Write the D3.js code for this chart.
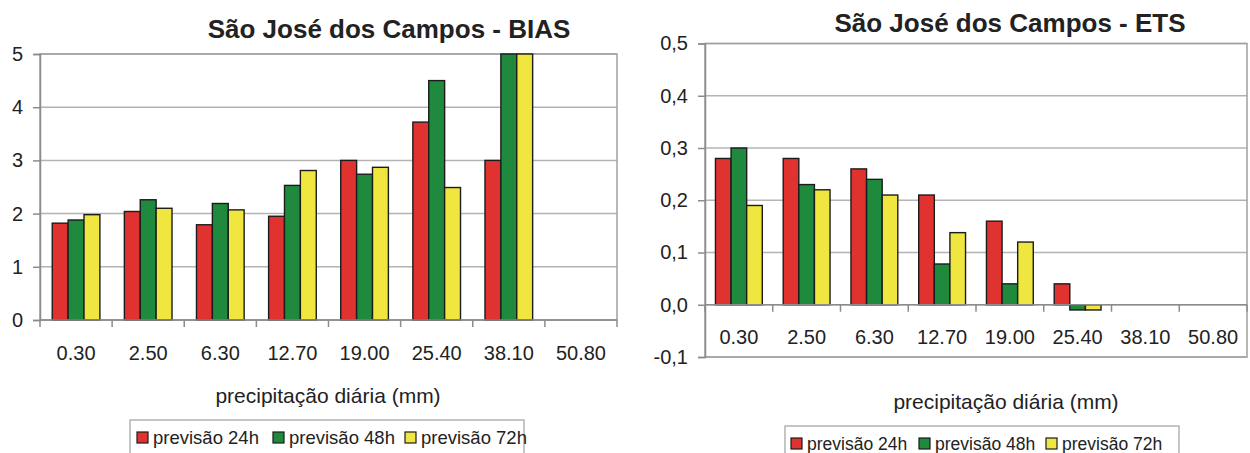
<!DOCTYPE html>
<html>
<head>
<meta charset="utf-8">
<script src="https://cdn.jsdelivr.net/npm/d3@7"></script>
<style>
  html, body { margin: 0; padding: 0; background: #fff; }
  svg { display: block; }
  text { font-family: "Liberation Sans", Arial, sans-serif; fill: #222; }
</style>
</head>
<body>
<svg id="chart" width="1250" height="453"></svg>
<script>
// Precipitation thresholds (mm/day)
const categories = ["0.30", "2.50", "6.30", "12.70", "19.00", "25.40", "38.10", "50.80"];
const series = ["previsão 24h", "previsão 48h", "previsão 72h"];
const seriesColors = ["#e0322f", "#1f8a3e", "#efe63f"];

// BIAS score per forecast lead time
const bias24 = [1.82, 2.04, 1.79, 1.95, 3.00, 3.72, 3.00, null];
const bias48 = [1.88, 2.26, 2.19, 2.53, 2.74, 4.50, 5.00, null];
const bias72 = [1.98, 2.10, 2.07, 2.81, 2.87, 2.49, 5.00, null];
const biasTicks = [0, 1, 2, 3, 4, 5];
const biasTickLabels = ["0", "1", "2", "3", "4", "5"];

// Equitable threat score per forecast lead time
const ets24 = [0.28, 0.28, 0.26, 0.21, 0.16, 0.04, null, null];
const ets48 = [0.30, 0.23, 0.24, 0.078, 0.04, -0.01, null, null];
const ets72 = [0.19, 0.22, 0.21, 0.138, 0.12, -0.01, null, null];
const etsTicks = [-0.1, 0, 0.1, 0.2, 0.3, 0.4, 0.5];
const etsTickLabels = ["-0,1", "0,0", "0,1", "0,2", "0,3", "0,4", "0,5"];

const svg = d3.select("#chart");

function drawPanel(cfg) {
  const g = svg.append("g");
  const x0 = d3.scaleBand().domain(categories).range([cfg.left, cfg.right]);
  const x1 = d3.scaleBand().domain(series).range([0, x0.bandwidth()]).paddingOuter(cfg.outer);
  const y = d3.scaleLinear().domain(cfg.domain).range([cfg.bottom, cfg.top]);

  // horizontal gridlines
  g.selectAll("line.grid").data(cfg.ticks).join("line")
    .attr("x1", cfg.left).attr("x2", cfg.right)
    .attr("y1", d => y(d)).attr("y2", d => y(d))
    .attr("stroke", "#b4b4b4").attr("stroke-width", 1.5);

  // plot border
  g.append("rect")
    .attr("x", cfg.left).attr("y", cfg.top)
    .attr("width", cfg.right - cfg.left).attr("height", cfg.bottom - cfg.top)
    .attr("fill", "none").attr("stroke", "#a0a0a0").attr("stroke-width", 1.5);

  // bars
  const rows = categories.map((c, i) => ({ c, vals: cfg.values.map(v => v[i]) }));
  const grp = g.selectAll("g.cat").data(rows).join("g")
    .attr("transform", d => `translate(${x0(d.c)},0)`);
  grp.selectAll("rect").data(d => d.vals.map((v, k) => ({ v, k })).filter(e => e.v !== null)).join("rect")
    .attr("x", e => x1(series[e.k]))
    .attr("width", x1.bandwidth())
    .attr("y", e => Math.min(y(e.v), y(0)))
    .attr("height", e => Math.abs(y(e.v) - y(0)))
    .attr("fill", e => seriesColors[e.k])
    .attr("stroke", "#1c1c1c").attr("stroke-width", 1.4);

  // value axis
  const yAxis = d3.axisLeft(y).tickValues(cfg.ticks)
    .tickFormat((d, i) => cfg.tickLabels[i]).tickSize(7).tickPadding(10);
  const ya = g.append("g").attr("transform", `translate(${cfg.left},0)`).call(yAxis);
  ya.select(".domain").attr("stroke", "#8c8c8c").attr("stroke-width", 1.5);
  ya.selectAll(".tick line").attr("stroke", "#8c8c8c").attr("stroke-width", 1.5);
  ya.selectAll(".tick text").attr("font-size", 20).attr("font-family", "Liberation Sans, Arial, sans-serif").attr("fill", "#222");

  // category axis along zero line
  const y0 = y(0);
  g.append("line").attr("x1", cfg.left).attr("x2", cfg.right)
    .attr("y1", y0).attr("y2", y0).attr("stroke", "#8c8c8c").attr("stroke-width", 1.5);
  const bounds = categories.map(c => x0(c)).concat([cfg.right]);
  g.selectAll("line.ctick").data(bounds).join("line")
    .attr("x1", d => d).attr("x2", d => d)
    .attr("y1", y0).attr("y2", y0 + 7)
    .attr("stroke", "#8c8c8c").attr("stroke-width", 1.5);
  g.selectAll("text.cat").data(categories).join("text")
    .attr("x", d => x0(d) + x0.bandwidth() / 2)
    .attr("y", y0 + cfg.labelOffset)
    .attr("text-anchor", "middle").attr("font-size", 20)
    .text(d => d);

  // titles
  g.append("text").attr("x", cfg.titleX).attr("y", cfg.titleY)
    .attr("text-anchor", "middle").attr("font-size", 26).attr("font-weight", "bold")
    .attr("fill", "#111").text(cfg.title);
  g.append("text").attr("x", cfg.xTitleX).attr("y", cfg.xTitleY)
    .attr("text-anchor", "middle").attr("font-size", 21)
    .text("precipitação diária (mm)");

  // legend
  const lg = g.append("g").attr("transform", `translate(${cfg.legX},${cfg.legY})`);
  lg.append("rect").attr("x", 0).attr("y", 0).attr("width", cfg.legW).attr("height", 40)
    .attr("fill", "#fff").attr("stroke", "#a0a0a0").attr("stroke-width", 1.2);
  series.forEach((s, k) => {
    const ox = cfg.legItems[k];
    lg.append("rect").attr("x", ox).attr("y", 12).attr("width", 11).attr("height", 11)
      .attr("fill", seriesColors[k]).attr("stroke", "#1c1c1c").attr("stroke-width", 1.2);
    lg.append("text").attr("x", ox + 16).attr("y", 24).attr("font-size", cfg.legFont).text(s);
  });
}

drawPanel({
  left: 40, right: 617, top: 54, bottom: 320, outer: 0.77,
  domain: [0, 5], ticks: biasTicks, tickLabels: biasTickLabels,
  values: [bias24, bias48, bias72], labelOffset: 40,
  title: "São José dos Campos - BIAS", titleX: 389, titleY: 38,
  xTitleX: 328, xTitleY: 403,
  legX: 130, legY: 420, legW: 394, legItems: [7, 143, 275], legFont: 18.5
});

drawPanel({
  left: 705, right: 1247, top: 43.5, bottom: 357, outer: 0.67,
  domain: [-0.1, 0.5], ticks: etsTicks, tickLabels: etsTickLabels,
  values: [ets24, ets48, ets72], labelOffset: 39,
  title: "São José dos Campos - ETS", titleX: 1010, titleY: 32,
  xTitleX: 1006, xTitleY: 409,
  legX: 785, legY: 426, legW: 394, legItems: [6, 134, 261], legFont: 17.5
});
</script>
</body>
</html>
